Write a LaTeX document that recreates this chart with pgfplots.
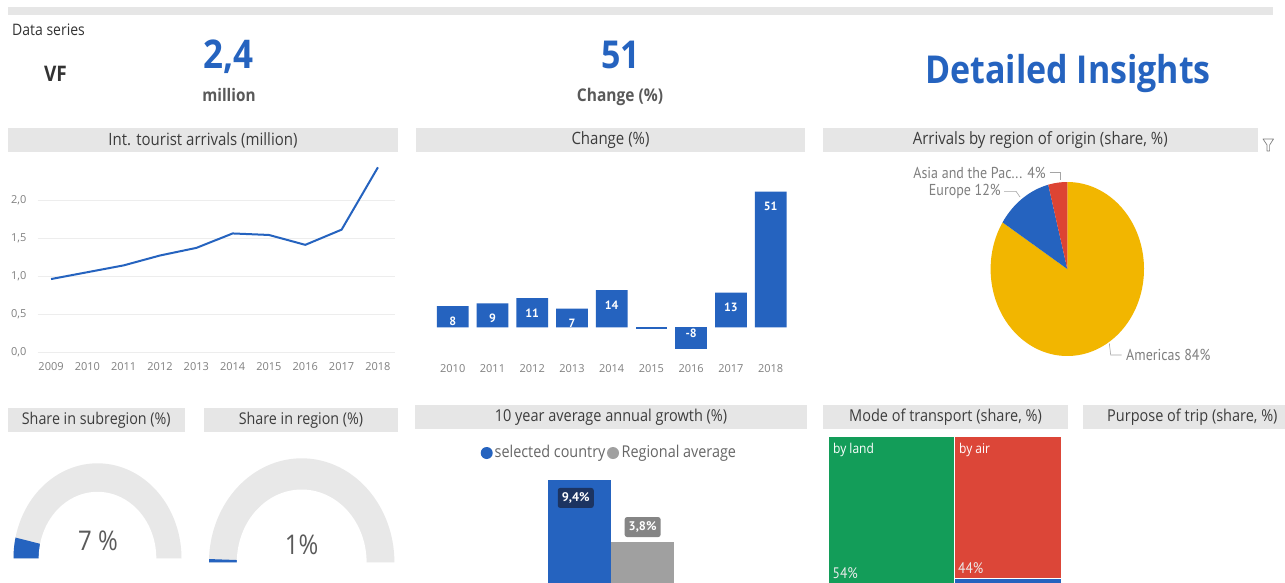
\documentclass[border=0pt]{standalone}
\usepackage{graphicx}
\usepackage{fontspec}
\setmainfont{Open Sans}
\newfontfamily\din{PT Sans}
\usepackage{pgfplots}
\pgfplotsset{compat=1.18}
\pgfdeclarelayer{background}
\pgfsetlayers{background,main}
\definecolor{pbblue}{HTML}{2563BF}
\definecolor{barbg}{HTML}{E6E6E6}
\definecolor{titletext}{HTML}{3C3C3C}
\definecolor{tickc}{HTML}{808080}
\definecolor{gridc}{HTML}{EDEDED}
\definecolor{pieyellow}{HTML}{F2B600}
\definecolor{piered}{HTML}{DD4433}
\definecolor{labgrey}{HTML}{7F7F7F}
\definecolor{gaugegrey}{HTML}{E8E8E8}
\definecolor{gaugetext}{HTML}{5A5A5A}
\definecolor{navybox}{HTML}{1C3461}
\definecolor{greybar}{HTML}{A0A0A0}
\definecolor{greybox}{HTML}{858585}
\definecolor{tmgreen}{HTML}{139D59}
\definecolor{tmred}{HTML}{DC4638}
\definecolor{midtext}{HTML}{595959}
\definecolor{legtext}{HTML}{666666}
\definecolor{darktext}{HTML}{333333}
\newcommand{\fs}[1]{\fontsize{#1}{#1}\selectfont}
\newcommand{\vs}[1]{\scalebox{1}[1.13]{#1}}
\newcommand{\titlebar}[6]{%
  \fill[barbg] (#1,-#3) rectangle (#2,-#4);
  \node[text=titletext, inner sep=0pt] at ({(#1+#2)/2},{-(#3+#4)/2}) {\fs{#6}\vs{#5}};}

% data
\pgfplotstableread{
year arrivals
2009 0.96
2010 1.05
2011 1.14
2012 1.27
2013 1.37
2014 1.56
2015 1.54
2016 1.41
2017 1.61
2018 2.43
}\arrivals
\def\shAmericas{84}
\def\shEurope{12}
\def\shAsia{4}
\def\gaugeA{7}
\def\gaugeB{1}
\pgfmathsetmacro{\pA}{90-3.6*\shAmericas}
\pgfmathsetmacro{\pB}{\pA-3.6*\shEurope}
\pgfmathsetmacro{\pC}{\pB-3.6*\shAsia}
\pgfmathsetmacro{\gA}{180-1.8*\gaugeA}
\pgfmathsetmacro{\gB}{180-1.8*\gaugeB}

\begin{document}
\begin{tikzpicture}

% ---------- line chart ----------
\begin{axis}[
  at={(38pt,-352pt)}, anchor=south west, scale only axis,
  width=357pt, height=190pt,
  xmin=2008.64, xmax=2018.47, ymin=0, ymax=2.5,
  axis line style={draw=none}, major tick length=0pt,
  xtick={2009,...,2018}, ytick={0,0.5,1,1.5,2},
  ymajorgrids, grid style={gridc, line width=0.8pt},
  tick label style={font=\fs{11}, text=tickc},
  /pgf/number format/assume math mode=true,
  xticklabel style={/pgf/number format/1000 sep={}, yshift=-7pt},
  yticklabel style={/pgf/number format/fixed, /pgf/number format/fixed zerofill,
    /pgf/number format/precision=1, /pgf/number format/use comma, xshift=-8pt},
]
\addplot[pbblue, line width=2pt, line join=round] table[x=year, y=arrivals] {\arrivals};
\end{axis}

% ---------- change bar chart ----------
\begin{axis}[
  at={(428.85pt,-353.9pt)}, anchor=south west, scale only axis,
  width=365.7pt, height=172.9pt,
  xmin=-0.6, xmax=8.6, ymin=-10, ymax=55,
  axis line style={draw=none}, major tick length=0pt,
  ytick=\empty, xtick={0,...,8},
  xticklabels={2010,2011,2012,2013,2014,2015,2016,2017,2018},
  tick label style={font=\fs{11}, text=tickc},
  xticklabel style={yshift=-7pt},
  clip=false,
]
\addplot[ybar, bar width=31.7pt, bar shift=0pt, fill=pbblue, draw=none, nodes near coords, point meta=explicit symbolic,
  every node near coord/.append style={anchor=center, yshift=-15pt, text=white, font=\din\bfseries\fs{12}}]
  coordinates {(0,8)[8] (1,9)[9] (2,11)[11] (3,7)[7] (4,14)[14] (7,13)[13] (8,51)[51]};
\addplot[ybar, bar width=31.7pt, bar shift=0pt, fill=pbblue, draw=none, nodes near coords, point meta=explicit symbolic,
  every node near coord/.append style={anchor=center, yshift=15pt, text=white, font=\din\bfseries\fs{12}}]
  coordinates {(6,-8)[-8]};
\addplot[ybar, bar width=31.7pt, bar shift=0pt, fill=pbblue, draw=none]
  coordinates {(5,-0.7)};
\end{axis}

% ---------- pie ----------
\begin{axis}[
  at={(1067.3pt,-269pt)}, anchor=center, scale only axis,
  width=153.4pt, height=174pt,
  xmin=-1, xmax=1, ymin=-1, ymax=1, hide axis, clip=false,
]
\addplot[fill=pieyellow, draw=none, domain=\pA:90, samples=160] ({cos(x)},{sin(x)}) -- (0,0) -- cycle;
\addplot[fill=pbblue, draw=none, domain=\pB:\pA, samples=40] ({cos(x)},{sin(x)}) -- (0,0) -- cycle;
\addplot[fill=piered, draw=none, domain=\pC:\pB, samples=20] ({cos(x)},{sin(x)}) -- (0,0) -- cycle;
\end{axis}

% ---------- gauges ----------
\begin{axis}[
  at={(13.5pt,-558.3pt)}, anchor=south west, scale only axis,
  width=168pt, height=95pt,
  xmin=-1, xmax=1, ymin=0, ymax=1, hide axis, clip=false,
]
\addplot[fill=gaugegrey, draw=none, domain=0:180, samples=120] ({cos(x)},{sin(x)}) -- cycle;
\addplot[fill=pbblue, draw=none, domain=\gA:180, samples=20] ({cos(x)},{sin(x)}) -- (0,0) -- cycle;
\addplot[fill=white, draw=none, domain=-6:186, samples=130] ({0.7*cos(x)},{0.7*sin(x)}) -- cycle;
\end{axis}

\begin{axis}[
  at={(209pt,-562.3pt)}, anchor=south west, scale only axis,
  width=185.4pt, height=104pt,
  xmin=-1, xmax=1, ymin=0, ymax=1, hide axis, clip=false,
]
\addplot[fill=gaugegrey, draw=none, domain=0:180, samples=120] ({cos(x)},{sin(x)}) -- cycle;
\addplot[fill=pbblue, draw=none, domain=\gB:180, samples=10] ({cos(x)},{sin(x)}) -- (0,0) -- cycle;
\addplot[fill=white, draw=none, domain=-6:186, samples=130] ({0.7*cos(x)},{0.7*sin(x)}) -- cycle;
\end{axis}

% ---------- growth bars ----------
\begin{axis}[
  at={(547.7pt,-584pt)}, anchor=south west, scale only axis,
  width=126.6pt, height=110.4pt,
  xmin=0, xmax=2, ymin=0, ymax=10, hide axis, clip=false,
]
\addplot[ybar, bar width=63.3pt, bar shift=0pt, fill=pbblue, draw=none, nodes near coords, point meta=explicit symbolic,
  every node near coord/.append style={anchor=center, yshift=-17.7pt, xshift=-3.6pt, fill=navybox, text=white,
    rounded corners=2.5pt, minimum width=36pt, minimum height=20pt, inner sep=0pt, font=\din\bfseries\fs{12.5}}]
  coordinates {(0.5,9.4)[9,4\%]};
\addplot[ybar, bar width=63.3pt, bar shift=0pt, fill=greybar, draw=none, nodes near coords, point meta=explicit symbolic,
  every node near coord/.append style={anchor=center, yshift=15pt, fill=greybox, text=white,
    rounded corners=2.5pt, minimum width=36pt, minimum height=20pt, inner sep=0pt, font=\din\bfseries\fs{12.5}}]
  coordinates {(1.5,3.8)[3,8\%]};
\end{axis}

% ---------- treemap ----------
\begin{axis}[
  at={(828pt,-585pt)}, anchor=south west, scale only axis,
  width=234pt, height=149pt,
  xmin=0, xmax=100, ymin=0, ymax=100, hide axis,
]
\addplot[fill=tmgreen, draw=white, line width=1.5pt] coordinates {(0,0) (54,0) (54,100) (0,100)} -- cycle;
\addplot[fill=tmred, draw=white, line width=1.5pt] coordinates {(54,4.35) (100,4.35) (100,100) (54,100)} -- cycle;
\addplot[fill=pbblue, draw=white, line width=1.5pt] coordinates {(54,0) (100,0) (100,4.35) (54,4.35)} -- cycle;
\end{axis}

\begin{scope}[x=1pt,y=1pt]
% ---------- header ----------
\fill[barbg] (7.5,-7) rectangle (1273,-15);
\node[anchor=base west, inner sep=0pt, text=darktext] at (12,-35) {\fs{14}\vs{Data series}};
\node[anchor=base, inner sep=0pt, text=darktext] at (55.5,-81.7) {\fs{19}\bfseries\vs{VF}};
\node[anchor=base, inner sep=0pt, text=pbblue] at (228.5,-68.3) {\fs{35}\bfseries\vs{2,4}};
\node[anchor=base, inner sep=0pt, text=midtext] at (229,-101.7) {\fs{15.3}\bfseries\vs{million}};
\node[anchor=base, inner sep=0pt, text=pbblue] at (620.8,-68.3) {\fs{34}\bfseries\vs{51}};
\node[anchor=base, inner sep=0pt, text=midtext] at (620,-101.7) {\fs{15.5}\bfseries\vs{Change (\%)}};
\node[anchor=base, inner sep=0pt, text=pbblue] at (1068,-83.3) {\fs{34}\bfseries\vs{Detailed Insights}};

% ---------- title bars ----------
\titlebar{8}{398}{128}{152}{Int. tourist arrivals (million)}{15}
\titlebar{416}{805}{128}{152}{Change (\%)}{15}
\titlebar{823}{1257.5}{128}{152}{Arrivals by region of origin (share, \%)}{15}
\titlebar{7.5}{185}{408}{432}{Share in subregion (\%)}{14.3}
\titlebar{204}{398}{408}{432}{Share in region (\%)}{14.3}
\titlebar{415}{807}{405}{429}{10 year average annual growth (\%)}{14.5}
\titlebar{823}{1068}{405}{429}{Mode of transport (share, \%)}{14.5}
\fill[barbg] (1083,-405) rectangle (1285,-429);
\node[anchor=west, inner sep=0pt, text=titletext] at (1107,-417) {\fs{14.5}\vs{Purpose of trip (share, \%)}};
% filter icon
\draw[labgrey, line width=0.7pt, line join=round] (1263,-139)--(1273.5,-139)--(1269.6,-145)--(1269.6,-151)--(1267,-151)--(1267,-145)--cycle;

% pie labels
\node[anchor=east, inner sep=0pt, text=labgrey] at (1046,-172.7) {\din\fs{14}\vs{Asia and the Pac... 4\%}};
\draw[labgrey!70, line width=0.6pt] (1049.5,-172.7)--(1060.7,-172.7)--(1060.7,-180);
\node[anchor=east, inner sep=0pt, text=labgrey] at (1001,-191) {\din\fs{14}\vs{Europe 12\%}};
\draw[labgrey!70, line width=0.6pt] (1004,-191.3)--(1016,-191.3)--(1020,-197);
\node[anchor=west, inner sep=0pt, text=labgrey] at (1126,-355) {\din\fs{14}\vs{Americas 84\%}};
\draw[labgrey!70, line width=0.6pt] (1109.3,-343.3)--(1110.7,-355)--(1121.7,-355);

% gauge texts
\node[text=gaugetext, inner sep=0pt] at (98,-541) {\fs{24}\vs{7 \%}};
\node[text=gaugetext, inner sep=0pt] at (301.7,-544.7) {\fs{24}\vs{1\%}};

% growth legend
\fill[pbblue] (486.7,-453) circle (6);
\node[anchor=west, inner sep=0pt, text=legtext] at (494.5,-453) {\fs{14.4}\vs{selected country}};
\fill[greybar] (613,-453) circle (6);
\node[anchor=west, inner sep=0pt, text=legtext] at (621.5,-453) {\fs{14.4}\vs{Regional average}};

% treemap labels
\node[anchor=west, inner sep=0pt, text=white] at (833,-450) {\fs{12}\vs{by land}};
\node[anchor=west, inner sep=0pt, text=white] at (959,-450) {\fs{12}\vs{by air}};
\node[anchor=west, inner sep=0pt, text=white!92!black] at (832.5,-573.5) {\din\fs{13.5}\vs{54\%}};
\node[anchor=west, inner sep=0pt, text=white!92!black] at (958,-568) {\din\fs{13.5}\vs{44\%}};

\begin{pgfonlayer}{background}
\fill[white] (-50,50) rectangle (1335,-650);
\end{pgfonlayer}
\end{scope}

\pgfresetboundingbox
\useasboundingbox (0pt,0pt) rectangle (1285pt,-582pt);
\end{tikzpicture}
\end{document}
